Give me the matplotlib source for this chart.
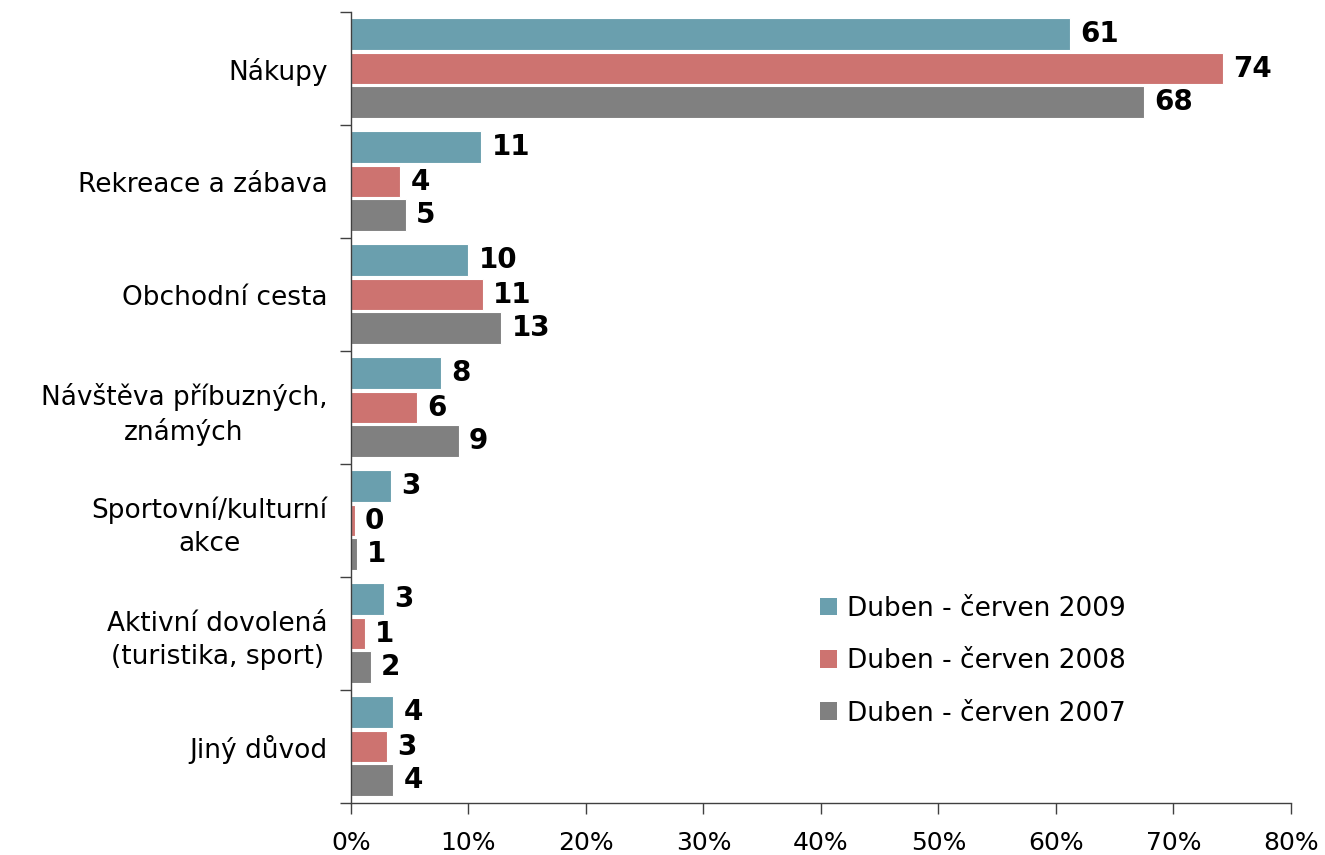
import matplotlib
matplotlib.use("Agg")
import matplotlib.pyplot as plt
from matplotlib.patches import Patch
import numpy as np

categories = ["Nákupy", "Rekreace a zábava", "Obchodní cesta",
              "Návštěva příbuzných,\nznámých", "Sportovní/kulturní\nakce",
              "Aktivní dovolená\n(turistika, sport)", "Jiný důvod"]
series_names = ["Duben - červen 2009", "Duben - červen 2008", "Duben - červen 2007"]
values_2009 = [61.2, 11.1, 10.0, 7.7, 3.4, 2.8, 3.6]
values_2008 = [74.2, 4.2, 11.2, 5.6, 0.3, 1.2, 3.1]
values_2007 = [67.5, 4.7, 12.8, 9.2, 0.5, 1.7, 3.6]
labels_2009 = ["61", "11", "10", "8", "3", "3", "4"]
labels_2008 = ["74", "4", "11", "6", "0", "1", "3"]
labels_2007 = ["68", "5", "13", "9", "1", "2", "4"]
x_ticks = [0, 10, 20, 30, 40, 50, 60, 70, 80]

colors = ["#6A9FAE", "#CD7370", "#808080"]

plt.rcParams['font.family'] = ['DejaVu Sans']

fig = plt.figure(figsize=(13.25, 8.55), dpi=100)
ax = fig.add_axes([351/1325, 1-803/855, (1291-351)/1325, (803-12)/855])

y = np.arange(len(categories))
offsets = [-0.305, 0.0, 0.3]
h = 0.283
all_vals = [values_2009, values_2008, values_2007]
all_labels = [labels_2009, labels_2008, labels_2007]
for vals, labs, off, c in zip(all_vals, all_labels, offsets, colors):
    bars = ax.barh(y + off, vals, height=h, color=c, edgecolor="white", linewidth=0.8)
    for b, v, lab in zip(bars, vals, labs):
        ax.text(v + 0.85, b.get_y() + b.get_height()/2, lab, ha="left", va="center",
                fontsize=20, fontweight="bold", color="black")

ax.set_xlim(0, 80)
ax.set_ylim(len(categories) - 0.5, -0.5)
ax.set_xticks(x_ticks)
ax.set_xticklabels([f"{t}%" for t in x_ticks], fontsize=18)
ax.set_yticks(y)
ax.set_yticklabels(categories, fontsize=19, multialignment="center", linespacing=1.35)
ax.tick_params(axis="y", which="major", length=0, pad=17)
ax.set_yticks(np.arange(-0.5, len(categories)), minor=True)
ax.tick_params(axis="y", which="minor", length=8, width=1, color="#404040")
ax.tick_params(axis="x", which="major", length=8, width=1, color="#404040", pad=12, direction="out")
for s in ["top", "right"]:
    ax.spines[s].set_visible(False)
for s in ["left", "bottom"]:
    ax.spines[s].set_color("#404040")
    ax.spines[s].set_linewidth(1)

handles = [Patch(facecolor=c, edgecolor="none") for c in colors]
fig.legend(handles, series_names, loc="upper left", bbox_to_anchor=(796/1325, 1-572/855),
           frameon=False, fontsize=19, handlelength=0.65, handleheight=0.65,
           handletextpad=0.4, labelspacing=1.0)

fig.savefig("out.png", dpi=100)
